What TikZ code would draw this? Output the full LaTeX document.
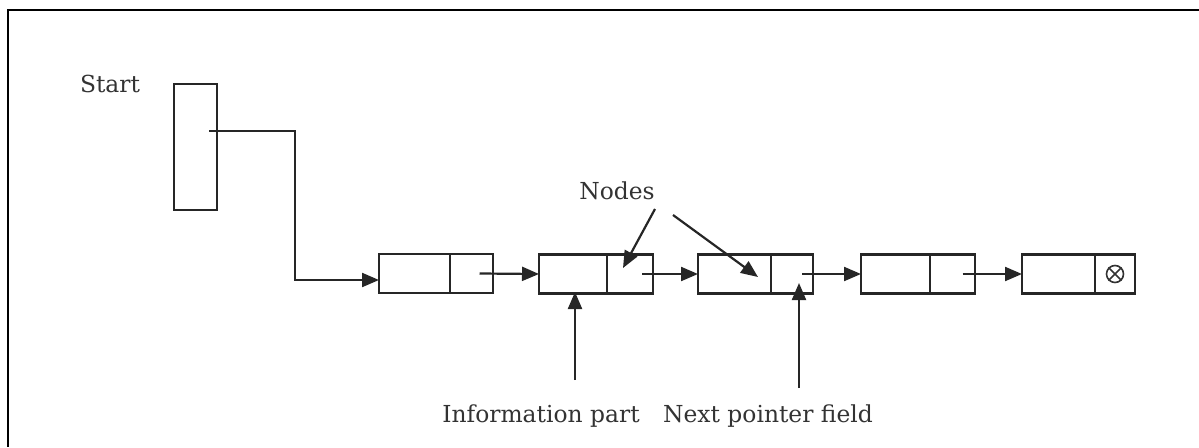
\documentclass[tikz,border=0pt]{standalone}
\usepackage{fontspec}
\setmainfont{DejaVu Serif}
\usetikzlibrary{arrows.meta}
\begin{document}
\begin{tikzpicture}[x=1pt,y=-1pt,
  ln/.style={line width=2.2pt, black!85},
  cell/.style={draw, ln, rectangle, inner sep=0pt, outer sep=0pt, minimum height=39pt},
  arr/.style={ln, -{Triangle[length=17pt,width=14pt]}},
  lbl/.style={font=\fontsize{23.4}{26}\selectfont, text=black!80, inner sep=0pt}
]
\useasboundingbox (0,0) rectangle (1199,447);
% frame (top and left edges only)
\draw[line width=2pt] (1199,10) -- (8,10) -- (8,447);

% start pointer
\node[cell, minimum width=43pt, minimum height=126pt] (start) at (195.5,147) {};
\node[lbl] (startlbl) at (110,84) {Start};

% list nodes
\node[cell, minimum width=71pt] (n1i) at (414.5,273.5) {};
\node[cell, minimum width=43pt, anchor=west] (n1p) at (n1i.east) {};
\node[cell, minimum width=68pt] (n2i) at (573,274) {};
\node[cell, minimum width=46pt, anchor=west] (n2p) at (n2i.east) {};
\node[cell, minimum width=73pt] (n3i) at (734.5,274) {};
\node[cell, minimum width=42pt, anchor=west] (n3p) at (n3i.east) {};
\node[cell, minimum width=69pt] (n4i) at (895.5,274) {};
\node[cell, minimum width=45pt, anchor=west] (n4p) at (n4i.east) {};
\node[cell, minimum width=73pt] (n5i) at (1058.5,274) {};
\node[cell, minimum width=40pt, anchor=west] (n5p) at (n5i.east) {};

% null symbol
\node[circle, draw, line width=1.6pt, black!80, minimum size=17pt, inner sep=0pt] (nul) at (n5p.center) {};
\draw[line width=1.6pt, black!80] (nul.45) -- (nul.225) (nul.135) -- (nul.315);

% start link
\coordinate (bend) at (295,131);
\draw[arr] (209,131) -- (bend) |- ([yshift=-6.5pt]n1i.west);

% links
\draw[arr] ([xshift=8pt]n1p.center) -- (n2i.west);
\draw[arr] ([xshift=12pt]n2p.center) -- (n3i.west);
\draw[arr] ([xshift=10pt]n3p.center) -- (n4i.west);
\draw[arr] ([xshift=10pt]n4p.center) -- (n5i.west);

% labels
\node[lbl] (nodes) at (617,191) {Nodes};
\coordinate (na) at (655,209);
\coordinate (nb) at (673,215);
\draw[arr] (na) -- (623,268);
\draw[arr] (nb) -- (758,277);

\node[lbl] (info) at (541,416) {Information part};
\node[lbl] (next) at (768,416) {Next pointer field};
\coordinate (ia) at (575,380);
\coordinate (pa) at (799,388);
\draw[arr] (ia) -- (575,292);
\draw[arr] (pa) -- (799,283);
\end{tikzpicture}
\end{document}
